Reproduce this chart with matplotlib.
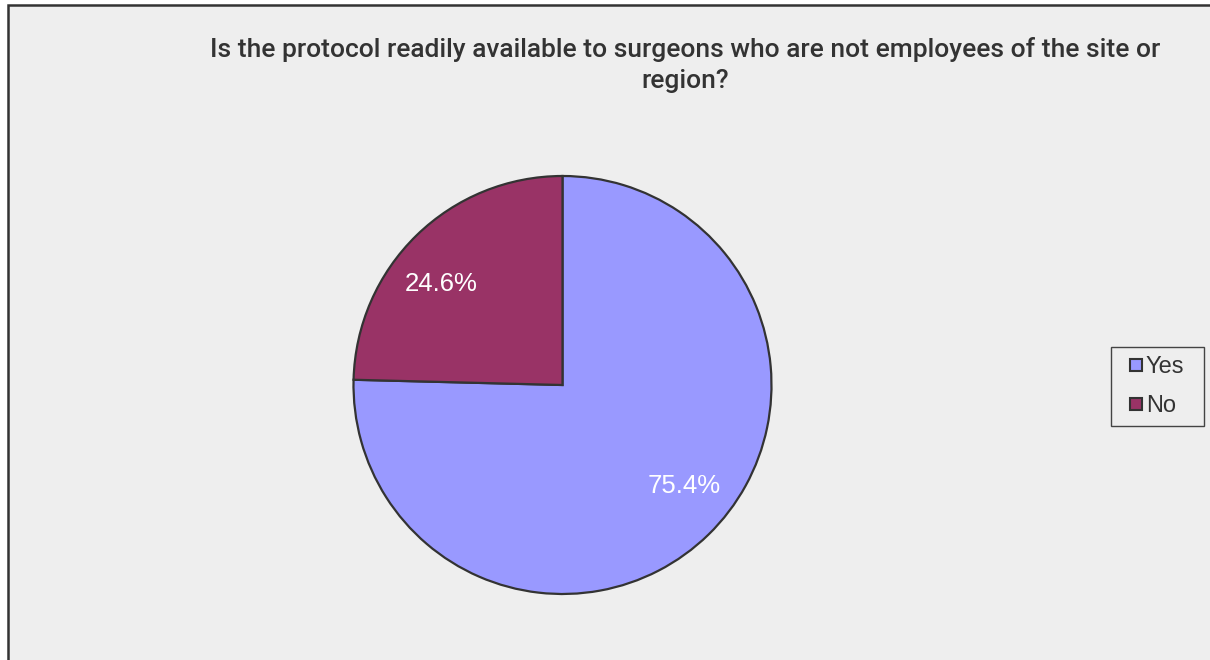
import numpy as np
import matplotlib
matplotlib.use("Agg")
import matplotlib.pyplot as plt
from matplotlib.patches import Rectangle
from matplotlib.lines import Line2D

categories = ["Yes", "No"]
shares = [75.4, 24.6]
colors = ["#9999FF", "#993366"]
title = "Is the protocol readily available to surgeons who are not employees of the site or\nregion?"

W, H = 1210, 660
fig = plt.figure(figsize=(W / 100, H / 100), dpi=100, facecolor="white")
plt.rcParams["font.family"] = ["Liberation Sans", "DejaVu Sans"]


def px_rect(x0, y0, x1, y1, **kw):
    """Rectangle given in pixel coordinates measured from the top-left corner."""
    return Rectangle((x0 / W, 1 - y1 / H), (x1 - x0) / W, (y1 - y0) / H,
                     transform=fig.transFigure, **kw)


# chart area frame
fig.patches.append(px_rect(8, 5, 1300, 700, facecolor="#EEEEEE", edgecolor="#333333",
                           linewidth=1.8, zorder=-5))

# pie placed by pixel centre and radius
cx, cy, r = 562.5, 385, 209
ax = fig.add_axes([(cx - r) / W, 1 - (cy + r) / H, 2 * r / W, 2 * r / H])
ax.set_zorder(2)
ax.set_facecolor("none")
wedges, texts, autotexts = ax.pie(
    shares, colors=colors, startangle=90, counterclock=False,
    autopct="%.1f%%", pctdistance=0.75, radius=1,
    wedgeprops=dict(edgecolor="#333333", linewidth=1.6),
    textprops=dict(color="white", fontsize=18.5),
)
# percentage labels sit a little counter-clockwise of each wedge's middle
for w, t in zip(wedges, autotexts):
    mid = np.deg2rad((w.theta1 + w.theta2) / 2 + 6)
    t.set_position((0.755 * np.cos(mid), 0.755 * np.sin(mid)))
ax.set_xlim(-1, 1)
ax.set_ylim(-1, 1)
ax.set_aspect("equal")
ax.axis("off")

fig.text(685 / W, 1 - 65 / H, title, ha="center", va="center", fontsize=19,
         color="#333333", fontweight="medium", family=["Roboto", "DejaVu Sans"],
         linespacing=1.38, zorder=3)

# legend box and entries
fig.patches.append(px_rect(1111, 347, 1204, 426, facecolor="#EEEEEE", edgecolor="#444444",
                           linewidth=1.0, zorder=1))
handles = [Line2D([], [], marker="s", linestyle="none", markersize=8,
                  markerfacecolor=c, markeredgecolor="#333333", markeredgewidth=1.5)
           for c in colors]
leg = fig.legend(handles, categories, loc="center", bbox_to_anchor=(1157.5 / W, 1 - 386.5 / H),
                 frameon=False, fontsize=17, handlelength=0.5,
                 handletextpad=0.15, labelspacing=0.72, borderpad=0.0)
leg.set_zorder(3)
for t in leg.get_texts():
    t.set_color("#333333")

fig.savefig("out.png", dpi=100)
